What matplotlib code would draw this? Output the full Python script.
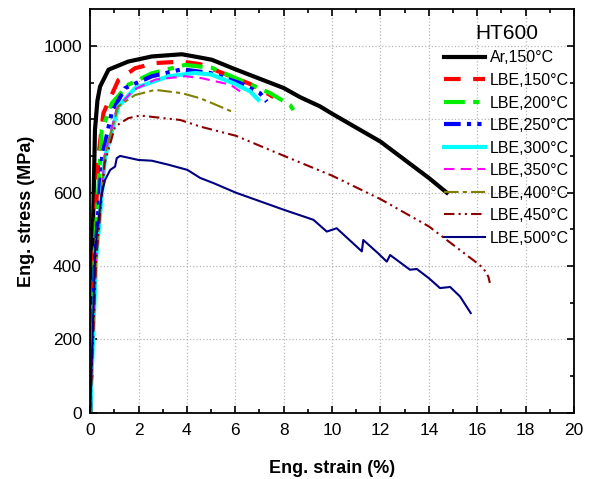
import matplotlib.pyplot as plt

plt.rcParams['font.family'] = ['Liberation Sans', 'DejaVu Sans']

# strain (%) / stress (MPa)
ar150_x = [0, 0.1, 0.2, 0.3, 0.41, 0.76, 1.57, 2.55, 3.79, 4.55, 5.03, 6.0, 8.0, 8.68, 9.5, 10.0, 12.0, 14.0, 14.74]
ar150_y = [0, 450, 771, 850, 889, 935, 957, 971, 977, 968, 962, 936, 885, 860, 835, 815, 739, 640, 600]

lbe150_x = [0, 0.15, 0.34, 0.55, 1.17, 1.86, 2.69, 3.79, 4.55, 6.61, 7.44, 7.58]
lbe150_y = [0, 400, 698, 817, 907, 939, 953, 957, 950, 896, 866, 860]

lbe200_x = [0, 0.2, 0.48, 0.9, 1.58, 2.55, 3.93, 5.03, 5.37, 6.75, 7.44, 8.26, 8.47]
lbe200_y = [0, 450, 771, 844, 894, 925, 948, 940, 930, 891, 871, 839, 818]

lbe250_x = [0, 0.2, 0.5, 0.9, 1.45, 2.55, 3.79, 4.96, 6.2, 7.02, 7.3]
lbe250_y = [0, 420, 700, 820, 885, 917, 936, 926, 898, 871, 848]

lbe300_x = [0, 0.25, 0.62, 1.17, 1.86, 3.24, 4.34, 5.0, 5.92, 6.61, 6.95]
lbe300_y = [0, 420, 698, 835, 885, 917, 926, 922, 898, 876, 853]

lbe350_x = [0, 0.25, 0.6, 1.1, 1.8, 2.7, 3.93, 4.6, 5.79, 6.2]
lbe350_y = [0, 420, 700, 830, 880, 908, 917, 912, 894, 876]

lbe400_x = [0, 0.25, 0.6, 1.16, 1.86, 2.69, 3.79, 4.55, 5.03, 5.85]
lbe400_y = [0, 420, 700, 835, 866, 880, 871, 857, 844, 821]

lbe450_x = [0, 0.25, 0.6, 1.03, 1.58, 2.07, 3.72, 4.55, 6.02, 8.02, 10.01, 12.01, 14.0, 16.0, 16.25, 16.46, 16.52]
lbe450_y = [0, 420, 680, 780, 803, 810, 798, 780, 755, 700, 646, 582, 508, 408, 394, 371, 354]

lbe500_x = [0, 0.21, 0.34, 0.48, 0.62, 0.83, 1.03, 1.1, 1.24, 2.0, 2.55, 3.24, 4.02, 4.55, 5.1, 6.02,
            8.02, 9.23, 9.78, 10.01, 10.19, 11.23, 11.29, 11.9, 12.26, 12.4, 13.22, 13.5, 14.0, 14.46,
            14.88, 15.29, 15.73]
lbe500_y = [0, 444, 526, 598, 635, 662, 671, 694, 700, 689, 687, 676, 662, 640, 626, 600,
            553, 526, 494, 499, 503, 440, 471, 435, 412, 430, 390, 392, 367, 340,
            343, 317, 272]

fig = plt.figure(figsize=(5.93, 4.79), dpi=100)
ax = fig.add_axes([0.152, 0.138, 0.816, 0.843])

ax.plot(ar150_x, ar150_y, color='black', lw=3, ls='-', label='Ar,150°C')
ax.plot(lbe150_x, lbe150_y, color='red', lw=3, ls=(0, (4, 3)), label='LBE,150°C')
ax.plot(lbe200_x, lbe200_y, color='#00ee00', lw=3, ls=(0, (5, 2, 1.5, 2)), label='LBE,200°C')
ax.plot(lbe250_x, lbe250_y, color='blue', lw=3, ls=(0, (4, 1.5, 1, 1.5, 1, 1.5)), label='LBE,250°C')
ax.plot(lbe300_x, lbe300_y, color='cyan', lw=3, ls='-', label='LBE,300°C')
ax.plot(lbe350_x, lbe350_y, color='magenta', lw=1.5, ls=(0, (5, 3)), label='LBE,350°C')
ax.plot(lbe400_x, lbe400_y, color='#808000', lw=1.5, ls=(0, (7, 2, 2, 2)), label='LBE,400°C')
ax.plot(lbe450_x, lbe450_y, color='#8b0000', lw=1.5, ls=(0, (5, 2, 1, 2, 1, 2)), label='LBE,450°C')
ax.plot(lbe500_x, lbe500_y, color='#000080', lw=1.5, ls='-', label='LBE,500°C')

ax.set_xlim(0, 20)
ax.set_ylim(0, 1100)
ax.set_xticks(range(0, 21, 2))
ax.set_xticks(range(1, 20, 2), minor=True)
ax.set_yticks(range(0, 1001, 200))
ax.set_yticks(range(100, 1100, 200), minor=True)
ax.tick_params(which='both', direction='in', top=True, right=True, labelsize=12.5, width=1.2)
ax.tick_params(which='major', length=5)
ax.tick_params(which='minor', length=3)
ax.tick_params(axis='x', which='major', pad=7)
ax.tick_params(axis='y', which='major', pad=6)
for s in ax.spines.values():
    s.set_linewidth(1.3)
ax.grid(True, which='major', ls=':', color='#b8b8b8', lw=0.9)

ax.set_xlabel('Eng. strain (%)', fontsize=13, fontweight='bold', labelpad=16)
ax.set_ylabel('Eng. stress (MPa)', fontsize=13, fontweight='bold', labelpad=6)

leg = ax.legend(title='HT600', loc='upper right', frameon=False, fontsize=11.5,
                handlelength=2.6, handletextpad=0.3, labelspacing=0.47,
                borderaxespad=0.0, borderpad=0.3, title_fontsize=15,
                bbox_to_anchor=(1.0, 0.975))

fig.savefig('out.png', dpi=100)
